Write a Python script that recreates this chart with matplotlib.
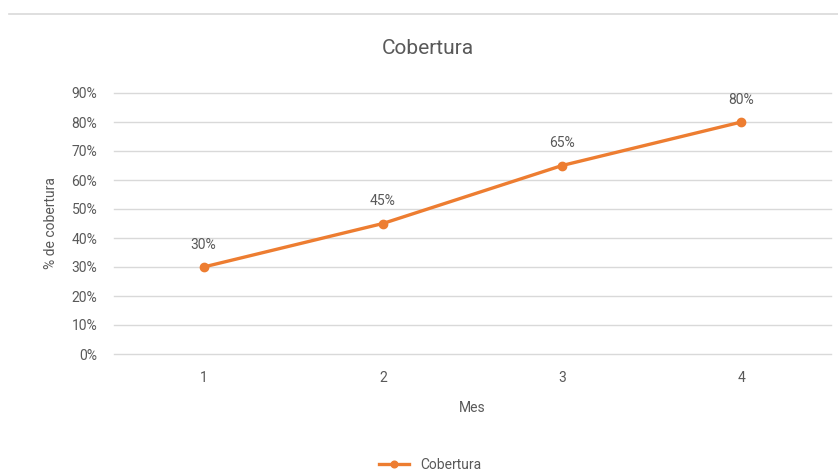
import matplotlib
matplotlib.use("Agg")
import matplotlib.pyplot as plt
from matplotlib.lines import Line2D

months = [1, 2, 3, 4]
coverage = [0.30, 0.45, 0.65, 0.80]
labels = ["30%", "45%", "65%", "80%"]
yticks = [0, 0.1, 0.2, 0.3, 0.4, 0.5, 0.6, 0.7, 0.8, 0.9]
ytick_labels = ["0%", "10%", "20%", "30%", "40%", "50%", "60%", "70%", "80%", "90%"]

plt.rcParams['font.family'] = ['Roboto', 'DejaVu Sans']
W, H = 838, 475
fig = plt.figure(figsize=(W/100, H/100), dpi=100)
ax = fig.add_axes([114/W, 1-354/H, (831-114)/W, (354-93)/H])

orange = "#ED7D31"
grey = "#595959"

ax.plot(months, coverage, color=orange, lw=2.4, marker="o", ms=6, label="Cobertura", zorder=3)
for x, y, t in zip(months, coverage, labels):
    ax.annotate(t, (x, y), xytext=(0, 11), textcoords="offset points", ha="center", va="bottom",
                fontsize=10, color=grey)

ax.set_xlim(0.5, 4.5)
ax.set_ylim(0, 0.9)
ax.set_yticks(yticks)
ax.set_yticklabels(ytick_labels)
ax.set_xticks(months)
ax.tick_params(axis="both", length=0, labelsize=10, labelcolor=grey)
ax.tick_params(axis="y", pad=12)
ax.tick_params(axis="x", pad=12)
ax.grid(axis="y", color="#D9D9D9", lw=1)
for gl in ax.get_ygridlines():
    gl.set_clip_on(False)
ax.set_axisbelow(True)
for s in ax.spines.values():
    s.set_visible(False)

ax.set_xlabel("Mes", fontsize=10, color=grey, labelpad=12)
ax.set_ylabel("% de cobertura", fontsize=10, color=grey, labelpad=10)
fig.text(428/W, 1-48/H, "Cobertura", ha="center", va="center", fontsize=15, color=grey)

fig.legend(loc="center", bbox_to_anchor=(430/W, 1-465/H), frameon=False, fontsize=10,
           handlelength=2.2, markerscale=0.8, labelcolor=grey)

fig.add_artist(Line2D([9/W, 1], [1-14/H, 1-14/H], color="#D9D9D9", lw=1.2, transform=fig.transFigure))

fig.savefig("out.png", dpi=100, facecolor="white")
